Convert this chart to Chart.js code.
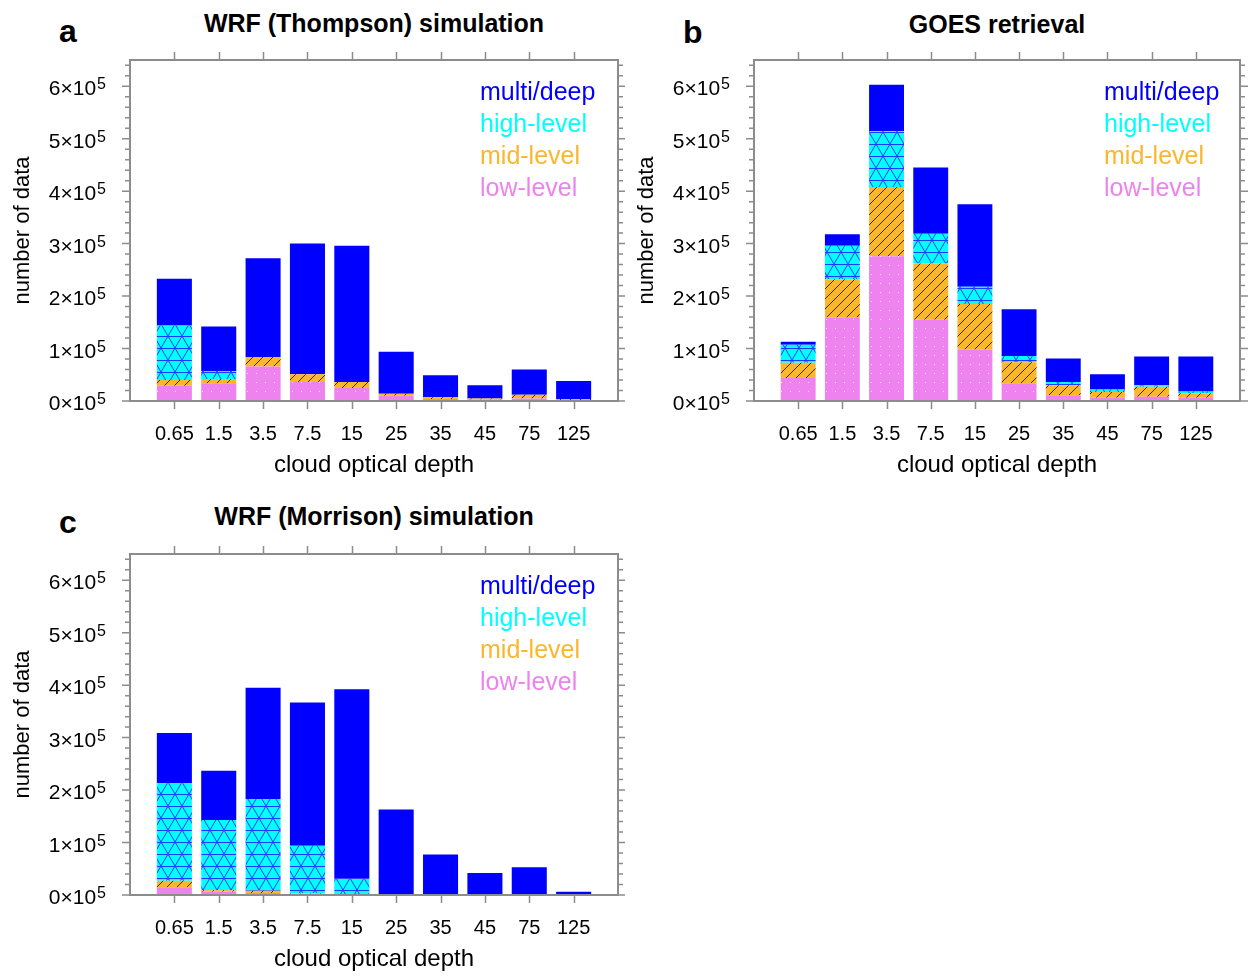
<!DOCTYPE html>
<html>
<head>
<meta charset="utf-8">
<title>cloud optical depth histograms</title>
<script src="https://cdn.jsdelivr.net/npm/chart.js@4.4.1/dist/chart.umd.min.js"></script>
<style>
  body { margin: 0; background: #fff; }
  #wrap { position: relative; width: 1249px; height: 977px; font-family: 'Liberation Sans', Arial, sans-serif; }
  canvas { position: absolute; }
  .lbl { position: absolute; font-weight: bold; color: #000; white-space: nowrap; }
  .letter { font-size: 32px; line-height: 32px; }
  .ttl { font-size: 25px; line-height: 30px; text-align: center; }
</style>
</head>
<body>
<div id="wrap">
  <div class="lbl letter" style="left:59px;top:15px">a</div>
  <div class="lbl ttl" style="left:130px;top:8px;width:488px">WRF (Thompson) simulation</div>
  <div class="lbl letter" style="left:683px;top:16px">b</div>
  <div class="lbl ttl" style="left:754px;top:9px;width:486px">GOES retrieval</div>
  <div class="lbl letter" style="left:59px;top:506px">c</div>
  <div class="lbl ttl" style="left:130px;top:501px;width:488px">WRF (Morrison) simulation</div>

  <canvas id="chartA" width="625" height="483" style="left:0;top:0"></canvas>
  <canvas id="chartB" width="625" height="483" style="left:624px;top:0"></canvas>
  <canvas id="chartC" width="625" height="483" style="left:0;top:494px"></canvas>
</div>

<script>
// cloud optical depth bins (x axis)
var depthLabels = ['0.65', '1.5', '3.5', '7.5', '15', '25', '35', '45', '75', '125'];
var seriesNames = ['low-level', 'mid-level', 'high-level', 'multi/deep'];

// y axis: labelled ticks, written as n x 10^5
var yTickValues = [0, 100000, 200000, 300000, 400000, 500000, 600000];
var yExponent = 5;
var yMax = 650000;

// a: WRF (Thompson) - counts per bin
var thompsonLow   = [29000, 34000, 66000, 36000, 25000, 10000, 4000, 3000, 5000, 2000];
var thompsonMid   = [11000, 8000, 18000, 15000, 11000, 4000, 3000, 2000, 7000, 2000];
var thompsonHigh  = [104000, 15000, 0, 0, 0, 0, 0, 0, 0, 0];
var thompsonMulti = [89000, 85000, 188000, 249000, 260000, 80000, 42000, 25000, 48000, 34000];

// b: GOES retrieval
var goesLow   = [44000, 159000, 276000, 155000, 98000, 34000, 11000, 6000, 8000, 6000];
var goesMid   = [29000, 73000, 132000, 107000, 87000, 40000, 19000, 11000, 19000, 9000];
var goesHigh  = [34000, 64000, 106000, 57000, 33000, 12000, 6000, 5000, 3000, 3000];
var goesMulti = [6000, 22000, 89000, 126000, 157000, 89000, 45000, 29000, 55000, 67000];

// c: WRF (Morrison)
var morrisonLow   = [15000, 6000, 4000, 1000, 500, 0, 0, 0, 0, 0];
var morrisonMid   = [12000, 3000, 4000, 2000, 500, 0, 0, 0, 0, 0];
var morrisonHigh  = [186000, 134000, 175000, 91000, 30000, 2000, 0, 0, 0, 0];
var morrisonMulti = [96000, 94000, 212000, 273000, 361000, 161000, 77000, 42000, 53000, 6000];

var FONT = "'Liberation Sans', Arial, sans-serif";
Chart.defaults.font.family = FONT;
Chart.defaults.color = '#000';

function makePatterns(ctx) {
  var t1 = document.createElement('canvas');
  t1.width = 9; t1.height = 9;
  var g = t1.getContext('2d');
  g.fillStyle = '#ee82ee';
  g.fillRect(0, 0, 9, 9);
  g.fillStyle = 'rgba(255,255,255,0.8)';
  g.fillRect(4, 4, 1, 1);

  var t2 = document.createElement('canvas');
  t2.width = 10; t2.height = 10;
  g = t2.getContext('2d');
  g.fillStyle = '#fcb62c';
  g.fillRect(0, 0, 10, 10);
  g.strokeStyle = '#3b2c08';
  g.lineWidth = 1;
  g.beginPath();
  g.moveTo(0, 10); g.lineTo(10, 0);
  g.moveTo(-1, 1); g.lineTo(1, -1);
  g.moveTo(9, 11); g.lineTo(11, 9);
  g.stroke();

  var t3 = document.createElement('canvas');
  t3.width = 14; t3.height = 24;
  g = t3.getContext('2d');
  g.fillStyle = '#00ffff';
  g.fillRect(0, 0, 14, 24);
  g.strokeStyle = '#1a3cff';
  g.lineWidth = 1;
  g.beginPath();
  g.moveTo(0, 0.5); g.lineTo(14, 0.5);
  g.moveTo(0, 12.5); g.lineTo(14, 12.5);
  g.moveTo(0, 0); g.lineTo(14, 24);
  g.moveTo(14, 0); g.lineTo(0, 24);
  g.stroke();

  return {
    low: ctx.createPattern(t1, 'repeat'),
    mid: ctx.createPattern(t2, 'repeat'),
    high: ctx.createPattern(t3, 'repeat')
  };
}

// box around plot, outward ticks on all four sides, y labels with exponent
var framePlugin = {
  id: 'frame',
  afterDatasetsDraw: function(chart) {
    var ctx = chart.ctx, a = chart.chartArea;
    var x = chart.scales.x, y = chart.scales.y;
    ctx.save();
    ctx.strokeStyle = '#8c8c8c';
    ctx.lineWidth = 1.5;
    ctx.beginPath();
    for (var i = 1; i <= depthLabels.length; i++) {
      var px = Math.round(x.getPixelForValue(i)) + 0.5;
      ctx.moveTo(px, a.bottom); ctx.lineTo(px, a.bottom + 8);
      ctx.moveTo(px, a.top); ctx.lineTo(px, a.top - 8);
    }
    for (var j = 0; j * 20000 <= y.max; j++) {
      var py = y.getPixelForValue(j * 20000);
      var len = j % 5 === 0 ? 8 : 5;
      ctx.moveTo(a.left - len, py); ctx.lineTo(a.left, py);
      ctx.moveTo(a.right, py); ctx.lineTo(a.right + len, py);
    }
    ctx.stroke();
    ctx.lineWidth = 2;
    ctx.strokeRect(a.left, a.top, a.right - a.left, a.bottom - a.top);

    // y tick labels like 3x10^5 with a raised exponent
    ctx.fillStyle = '#000';
    ctx.textAlign = 'right';
    ctx.textBaseline = 'alphabetic';
    var right = a.left - 24;
    y.ticks.forEach(function(t) {
      var ty = y.getPixelForValue(t.value);
      var sup = String(yExponent);
      ctx.font = '16px ' + FONT;
      var sw = ctx.measureText(sup).width;
      ctx.fillText(sup, right, ty + 3);
      ctx.font = '21px ' + FONT;
      ctx.fillText((t.value / Math.pow(10, yExponent)) + '\u00d710', right - sw - 1, ty + 9);
    });
    ctx.restore();
  }
};

// coloured text legend inside the plot, top series first
var textLegend = {
  id: 'textLegend',
  afterDraw: function(chart) {
    var ctx = chart.ctx, a = chart.chartArea;
    var ds = chart.data.datasets;
    ctx.save();
    ctx.font = '25px ' + FONT;
    ctx.textBaseline = 'middle';
    ctx.textAlign = 'left';
    for (var k = 0; k < ds.length; k++) {
      var d = ds[ds.length - 1 - k];
      ctx.fillStyle = d.textColor;
      ctx.fillText(d.label, a.left + 350, a.top + 33 + k * 32.2);
    }
    ctx.restore();
  }
};

function pad(arr) {
  return [null].concat(arr, [null]);
}

function makePanel(id, low, mid, high, multi, rightPad) {
  var ctx = document.getElementById(id).getContext('2d');
  var pat = makePatterns(ctx);
  var labels = [''].concat(depthLabels, ['']);

  return new Chart(ctx, {
    type: 'bar',
    data: {
      labels: labels,
      datasets: [
        { label: seriesNames[0], data: pad(low), backgroundColor: pat.low, textColor: '#ee82ee' },
        { label: seriesNames[1], data: pad(mid), backgroundColor: pat.mid, textColor: '#fcb62c' },
        { label: seriesNames[2], data: pad(high), backgroundColor: pat.high, textColor: '#00ffff' },
        { label: seriesNames[3], data: pad(multi), backgroundColor: '#0000ff', textColor: '#0000ff' }
      ]
    },
    options: {
      responsive: false,
      animation: false,
      layout: { padding: { top: 60, right: rightPad, left: 0, bottom: 0 } },
      datasets: { bar: { barPercentage: 0.79, categoryPercentage: 1, borderWidth: 0 } },
      plugins: { legend: { display: false }, tooltip: { enabled: false } },
      scales: {
        x: {
          stacked: true,
          offset: false,
          grid: { display: false, drawTicks: false },
          border: { display: false },
          ticks: { autoSkip: false, maxRotation: 0, padding: 21, font: { size: 20 }, color: '#000' },
          title: { display: true, text: 'cloud optical depth', font: { size: 24 }, color: '#000', padding: { top: 0, bottom: 3 } },
          afterFit: function(scale) {
            scale.height = 82;
            // the outer bins are empty, no room needed for edge labels
            scale.paddingLeft = 0;
            scale.paddingRight = 0;
          }
        },
        y: {
          stacked: true,
          min: 0,
          max: yMax,
          grid: { display: false, drawTicks: false },
          border: { display: false },
          ticks: { display: false, autoSkip: false },
          afterBuildTicks: function(scale) {
            scale.ticks = yTickValues.map(function(v) { return { value: v }; });
          },
          title: { display: true, text: 'number of data', font: { size: 22 }, color: '#000', padding: { top: 10, bottom: 0 } },
          afterFit: function(scale) { scale.width = 130; }
        }
      }
    },
    plugins: [framePlugin, textLegend]
  });
}

window.onload = function() {
  makePanel('chartA', thompsonLow, thompsonMid, thompsonHigh, thompsonMulti, 7);
  makePanel('chartB', goesLow, goesMid, goesHigh, goesMulti, 9);
  makePanel('chartC', morrisonLow, morrisonMid, morrisonHigh, morrisonMulti, 7);
};
</script>
</body>
</html>
